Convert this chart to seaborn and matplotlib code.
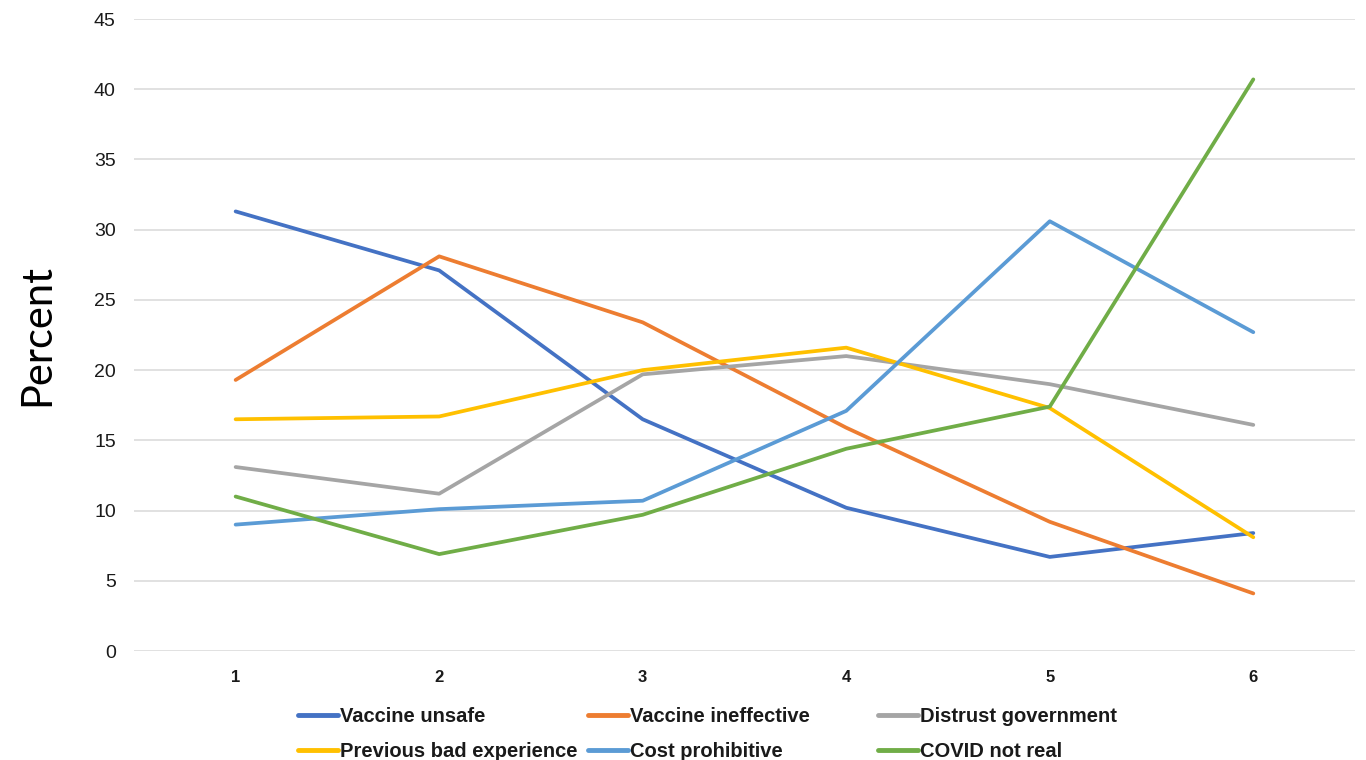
import matplotlib
matplotlib.use("Agg")
import matplotlib.pyplot as plt
import seaborn as sns
import pandas as pd

groups = [1, 2, 3, 4, 5, 6]
vaccine_unsafe = [31.3, 27.1, 16.5, 10.2, 6.7, 8.4]
vaccine_ineffective = [19.3, 28.1, 23.4, 15.9, 9.2, 4.1]
distrust_government = [13.1, 11.2, 19.7, 21.0, 19.0, 16.1]
previous_bad_experience = [16.5, 16.7, 20.0, 21.6, 17.3, 8.1]
cost_prohibitive = [9.0, 10.1, 10.7, 17.1, 30.6, 22.7]
covid_not_real = [11.0, 6.9, 9.7, 14.4, 17.4, 40.7]

series_names = ["Vaccine unsafe", "Vaccine ineffective", "Distrust government",
                "Previous bad experience", "Cost prohibitive", "COVID not real"]
series_values = [vaccine_unsafe, vaccine_ineffective, distrust_government,
                 previous_bad_experience, cost_prohibitive, covid_not_real]
colors = ["#4472C4", "#ED7D31", "#A5A5A5", "#FFC000", "#5B9BD5", "#70AD47"]

rows = []
for name, vals in zip(series_names, series_values):
    for g, v in zip(groups, vals):
        rows.append({"group": g, "percent": v, "reason": name})
df = pd.DataFrame(rows)

sns.set_style("white")
plt.rcParams["font.family"] = ["Liberation Sans", "DejaVu Sans"]
text_color = "#1a1a1a"

fig = plt.figure(figsize=(13.66, 7.6), dpi=100)
ax = fig.add_axes([0.098, 0.1434, 0.894, 0.8316])

sns.lineplot(data=df, x="group", y="percent", hue="reason", hue_order=series_names,
             palette=colors, linewidth=2.7, ax=ax, legend=False, sort=False)

ax.set_xlim(0.5, 6.5)
ax.set_ylim(0, 45)
ax.set_yticks(range(0, 46, 5))
ax.set_xticks(groups)
ax.set_xticklabels([str(g) for g in groups], fontsize=12, fontweight="bold")
ax.tick_params(axis="y", labelsize=14, length=0, pad=13, labelcolor=text_color)
ax.tick_params(axis="x", length=0, pad=14, labelcolor=text_color)
ax.yaxis.grid(True, color="#D9D9D9", linewidth=1.1)
ax.set_axisbelow(True)
for s in ax.spines.values():
    s.set_visible(False)
ax.set_xlabel("")
ax.set_ylabel("Percent", fontsize=30, family=["Lato", "DejaVu Sans"],
              labelpad=27, color="#000000")

# legend laid out as three equal-width columns below the plot
col_x = [298, 588, 878]
for c in range(3):
    idx = [c, c + 3]
    handles = [plt.Line2D([], [], color=colors[i], linewidth=3.5) for i in idx]
    labels = [series_names[i] for i in idx]
    fig.legend(handles, labels, loc="upper left",
               bbox_to_anchor=(col_x[c] / 1366, 1 - 707 / 760),
               frameon=False, borderpad=0, borderaxespad=0,
               handlelength=2.0, handletextpad=0.1, labelspacing=0.8,
               labelcolor=text_color,
               prop={"family": "Liberation Sans", "weight": "bold", "size": 14.5})

fig.savefig("out.png", dpi=100)
